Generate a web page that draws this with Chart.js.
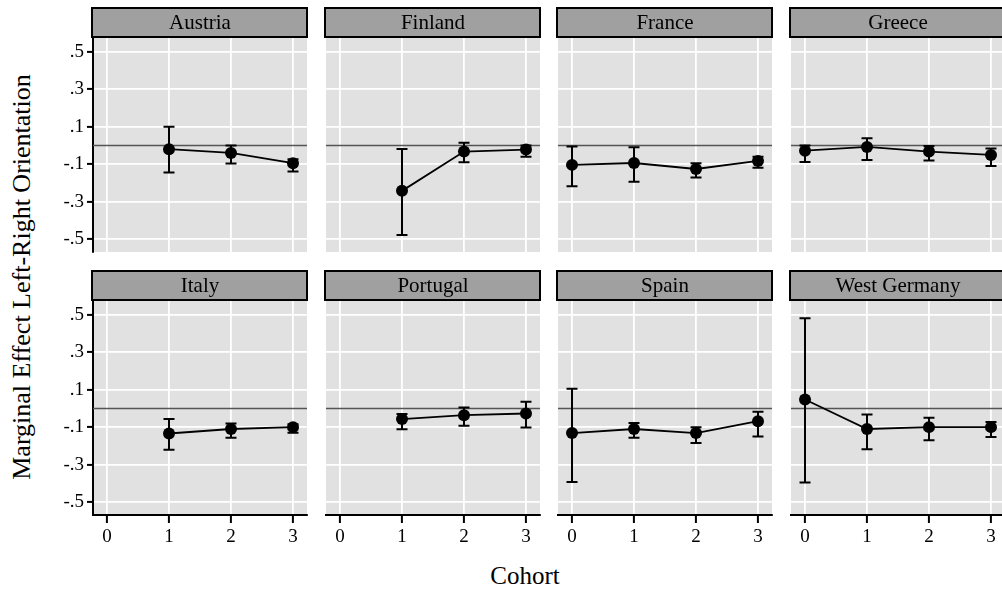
<!DOCTYPE html>
<html>
<head>
<meta charset="utf-8">
<script src="https://cdn.jsdelivr.net/npm/chart.js@4.4.1/dist/chart.umd.min.js"></script>
<style>
  html, body { margin:0; padding:0; background:#fff; width:1002px; height:590px; overflow:hidden; }
  #wrap { position:relative; width:1002px; height:590px; overflow:hidden; }
  canvas { position:absolute; }
  .lbl { position:absolute; font-family:"Liberation Serif","Times New Roman",serif; color:#000; white-space:nowrap; }
</style>
</head>
<body>
<div id="wrap">
  <div class="lbl" id="ytitle" style="left:22px; top:277px; font-size:26px; transform:translate(-50%,-50%) rotate(-90deg);">Marginal Effect Left-Right Orientation</div>
  <div class="lbl" id="xtitle" style="left:525px; top:576px; font-size:25px; transform:translate(-50%,-50%);">Cohort</div>
</div>
<script>
// ---- data ----
const categories = [0, 1, 2, 3];
const countries = ['Austria', 'Finland', 'France', 'Greece', 'Italy', 'Portugal', 'Spain', 'West Germany'];
const yTicks = [0.5, 0.3, 0.1, -0.1, -0.3, -0.5];
const yTickLabels = ['.5', '.3', '.1', '-.1', '-.3', '-.5'];
const xTicks = [0, 1, 2, 3];
const xTickLabels = ['0', '1', '2', '3'];

const austriaEst = [null, -0.020, -0.040, -0.095];
const austriaLo  = [null, -0.145, -0.096, -0.140];
const austriaHi  = [null,  0.100,  0.000, -0.074];

const finlandEst = [null, -0.243, -0.033, -0.022];
const finlandLo  = [null, -0.479, -0.090, -0.060];
const finlandHi  = [null, -0.019,  0.015,  0.000];

const franceEst = [-0.104, -0.094, -0.126, -0.083];
const franceLo  = [-0.218, -0.194, -0.172, -0.119];
const franceHi  = [-0.006, -0.010, -0.095, -0.060];

const greeceEst = [-0.028, -0.008, -0.033, -0.051];
const greeceLo  = [-0.088, -0.078, -0.081, -0.110];
const greeceHi  = [ 0.000,  0.038, -0.003, -0.017];

const italyEst = [null, -0.134, -0.110, -0.100];
const italyLo  = [null, -0.221, -0.157, -0.130];
const italyHi  = [null, -0.057, -0.080, -0.084];

const portugalEst = [null, -0.057, -0.036, -0.027];
const portugalLo  = [null, -0.111, -0.093, -0.102];
const portugalHi  = [null, -0.030,  0.005,  0.036];

const spainEst = [-0.132, -0.110, -0.132, -0.068];
const spainLo  = [-0.393, -0.157, -0.185, -0.150];
const spainHi  = [ 0.105, -0.078, -0.100, -0.018];

const westGermanyEst = [ 0.048, -0.110, -0.100, -0.100];
const westGermanyLo  = [-0.396, -0.218, -0.170, -0.153];
const westGermanyHi  = [ 0.482, -0.032, -0.050, -0.073];

const estimates = [austriaEst, finlandEst, franceEst, greeceEst, italyEst, portugalEst, spainEst, westGermanyEst];
const lowers    = [austriaLo, finlandLo, franceLo, greeceLo, italyLo, portugalLo, spainLo, westGermanyLo];
const uppers    = [austriaHi, finlandHi, franceHi, greeceHi, italyHi, portugalHi, spainHi, westGermanyHi];

// ---- axis bounds ----
const xMin = -0.226, xMax = 3.226;
const yMin = -0.57, yMax = 0.58;

// ---- layout ----
const colLeft = [93, 326, 558, 791];
const rowTop = [37, 300];
const plotW = 214, plotH = 215;
const padL = 60, padT = 35, padR = 6, padB = 50;
const serif = '"Liberation Serif","Times New Roman",serif';

const panelPlugin = {
  id: 'panel',
  beforeDraw(chart) {
    const {ctx, chartArea: a} = chart;
    ctx.save();
    ctx.fillStyle = '#e1e1e1';
    ctx.fillRect(a.left, a.top, a.right - a.left, a.bottom - a.top);
    ctx.restore();
  },
  afterDatasetDraw(chart, args) {
    if (args.index !== 1) return;
    const o = chart.options.plugins.panel;
    const xs = chart.scales.x, ys = chart.scales.y;
    const ctx = chart.ctx;
    ctx.save();
    ctx.strokeStyle = '#000';
    ctx.lineWidth = 2;
    categories.forEach((c, i) => {
      if (o.lo[i] === null) return;
      const px = xs.getPixelForValue(c);
      const pl = ys.getPixelForValue(o.lo[i]);
      const ph = ys.getPixelForValue(o.hi[i]);
      ctx.beginPath();
      ctx.moveTo(px, pl); ctx.lineTo(px, ph);
      ctx.moveTo(px - 5.5, pl); ctx.lineTo(px + 5.5, pl);
      ctx.moveTo(px - 5.5, ph); ctx.lineTo(px + 5.5, ph);
      ctx.stroke();
    });
    ctx.restore();
  },
  afterDraw(chart) {
    const o = chart.options.plugins.panel;
    const {ctx, chartArea: a} = chart;
    ctx.save();
    const top = a.top - 30;
    ctx.fillStyle = '#a0a0a0';
    ctx.fillRect(a.left - 1, top, a.right - a.left + 1, 30);
    ctx.strokeStyle = '#000';
    ctx.lineWidth = 2;
    ctx.strokeRect(a.left - 1, top + 1, a.right - a.left + 1, 29);
    ctx.fillStyle = '#000';
    ctx.font = '21px ' + serif;
    ctx.textAlign = 'center';
    ctx.textBaseline = 'middle';
    ctx.fillText(o.title, (a.left + a.right) / 2, top + 16);
    ctx.restore();
  }
};

const wrap = document.getElementById('wrap');
countries.forEach((name, k) => {
  const r = Math.floor(k / 4), c = k % 4;
  const isLeft = c === 0, isBottom = r === 1;
  const cv = document.createElement('canvas');
  const w = padL + plotW + padR, h = padT + plotH + padB;
  cv.width = w; cv.height = h;
  cv.style.width = w + 'px'; cv.style.height = h + 'px';
  cv.style.left = (colLeft[c] - padL) + 'px';
  cv.style.top = (rowTop[r] - padT) + 'px';
  wrap.appendChild(cv);

  const est = estimates[k];
  const pts = categories.map((x, i) => ({x: x, y: est[i]})).filter(p => p.y !== null);

  new Chart(cv, {
    type: 'line',
    data: {
      datasets: [
        { data: pts, order: 0, borderColor: '#000', borderWidth: 1.8, backgroundColor: '#000',
          pointRadius: 6, pointBackgroundColor: '#000', pointBorderWidth: 0, tension: 0 },
        { data: [{x: xMin, y: 0}, {x: xMax, y: 0}], order: 1, borderColor: '#555', borderWidth: 1.6,
          pointRadius: 0 }
      ]
    },
    options: {
      responsive: false, animation: false, devicePixelRatio: 1,
      layout: { padding: { left: 0, top: padT, right: padR, bottom: 0 }, autoPadding: false },
      plugins: {
        legend: { display: false }, tooltip: { enabled: false },
        panel: { title: name, lo: lowers[k], hi: uppers[k] }
      },
      scales: {
        x: {
          type: 'linear', min: xMin, max: xMax,
          afterBuildTicks: s => { s.ticks = xTicks.map(v => ({value: v})); },
          afterFit: s => { s.height = padB; },
          grid: { color: '#fff', lineWidth: 1.8, drawTicks: isBottom, tickLength: 8, tickColor: '#000', tickWidth: 2 },
          border: { display: isBottom, color: '#000', width: 2 },
          ticks: { display: isBottom, color: '#000', padding: 3, font: { family: serif, size: 19 },
                   callback: v => { const i = xTicks.indexOf(v); return i >= 0 ? xTickLabels[i] : ''; } }
        },
        y: {
          type: 'linear', min: yMin, max: yMax,
          afterBuildTicks: s => { s.ticks = yTicks.map(v => ({value: v})); },
          afterFit: s => { s.width = padL; },
          grid: { color: '#fff', lineWidth: 1.8, drawTicks: isLeft, tickLength: 6, tickColor: '#000', tickWidth: 2 },
          border: { display: isLeft, color: '#000', width: 2 },
          ticks: { display: isLeft, color: '#000', padding: 3, font: { family: serif, size: 19 },
                   callback: v => { const i = yTicks.findIndex(t => Math.abs(t - v) < 1e-6); return i >= 0 ? yTickLabels[i] : ''; } }
        }
      }
    },
    plugins: [panelPlugin]
  });
});
</script>
</body>
</html>
